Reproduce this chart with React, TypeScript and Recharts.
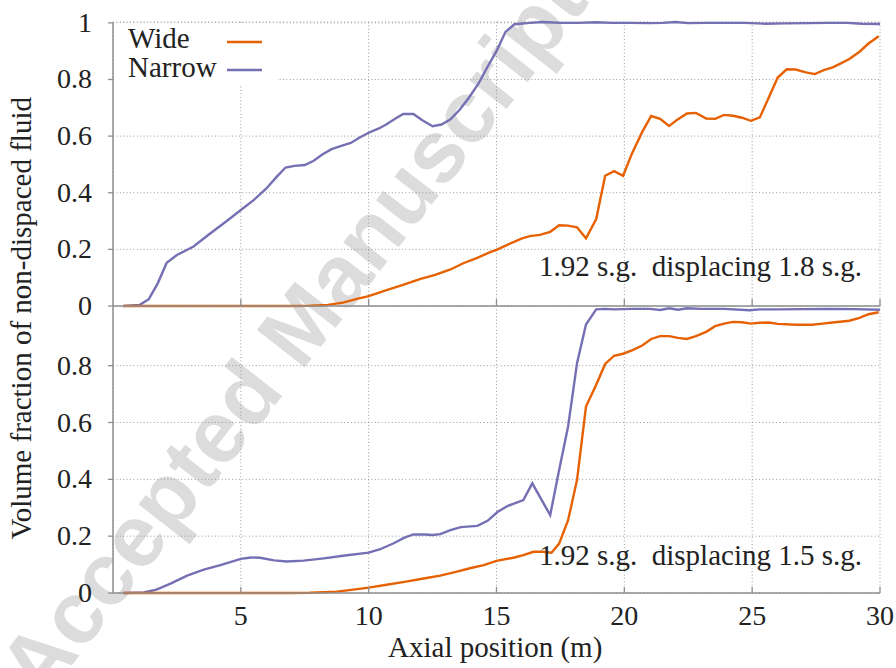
import React, { useEffect, useState } from 'react';
import { LineChart, Line, XAxis, YAxis, CartesianGrid, Legend } from 'recharts';

// 1.92 s.g. displacing 1.8 s.g. — axial position (m) and volume fraction
const topWideX = [0.4, 1, 2, 3, 4, 5, 6, 7, 7.7, 8.4, 9.0, 9.5, 10.0, 10.7, 11.4, 12.0, 12.6, 13.2, 13.7, 14.2, 14.75, 15.0, 15.4, 16.0, 16.3, 16.7, 17.1, 17.45, 17.8, 18.15, 18.5, 18.9, 19.25, 19.6, 19.95, 20.3, 20.7, 21.05, 21.4, 21.75, 22.1, 22.45, 22.8, 23.2, 23.55, 23.9, 24.25, 24.6, 24.95, 25.3, 25.65, 26.0, 26.35, 26.7, 27.1, 27.45, 27.8, 28.15, 28.45, 28.8, 29.2, 29.55, 29.95];
const topWideY = [0, 0, 0, 0, 0, 0, 0, 0, 0.001, 0.004, 0.012, 0.024, 0.035, 0.056, 0.076, 0.095, 0.11, 0.129, 0.151, 0.168, 0.19, 0.198, 0.215, 0.239, 0.247, 0.251, 0.262, 0.285, 0.284, 0.278, 0.239, 0.307, 0.46, 0.476, 0.46, 0.539, 0.615, 0.671, 0.661, 0.636, 0.66, 0.68, 0.682, 0.662, 0.661, 0.675, 0.672, 0.665, 0.654, 0.666, 0.736, 0.807, 0.836, 0.835, 0.825, 0.819, 0.833, 0.843, 0.856, 0.872, 0.898, 0.927, 0.953];

const topNarrowX = [0.4, 1.05, 1.4, 1.75, 2.1, 2.5, 3.15, 3.8, 4.45, 5.0, 5.5, 6.0, 6.4, 6.75, 7.1, 7.5, 7.85, 8.2, 8.55, 8.9, 9.3, 9.65, 10.0, 10.4, 10.7, 11.05, 11.35, 11.75, 12.1, 12.5, 12.85, 13.2, 13.55, 13.9, 14.3, 14.65, 15.0, 15.35, 15.7, 16.3, 16.8, 17.5, 18.2, 18.9, 19.5, 20.2, 21.0, 21.5, 22.0, 22.5, 23.2, 24.0, 24.7, 25.5, 26.3, 27.2, 28.0, 28.7, 29.3, 30.0];
const topNarrowY = [0, 0.004, 0.024, 0.08, 0.153, 0.18, 0.21, 0.256, 0.3, 0.339, 0.374, 0.415, 0.456, 0.489, 0.495, 0.498, 0.513, 0.536, 0.554, 0.565, 0.576, 0.595, 0.612, 0.627, 0.642, 0.662, 0.678, 0.678, 0.656, 0.635, 0.641, 0.659, 0.692, 0.733, 0.786, 0.845, 0.9, 0.968, 0.995, 1.0, 1.003, 1.0, 1.0, 1.002, 1.0, 1.0, 0.999, 1.0, 1.003, 0.999, 1.0, 1.0, 1.0, 0.997, 0.998, 0.999, 1.0, 1.0, 0.997, 0.996];

// 1.92 s.g. displacing 1.5 s.g.
const bottomWideX = [0.4, 2, 4, 6, 7.0, 7.7, 8.75, 9.4, 10.0, 10.7, 11.4, 12.15, 12.8, 13.45, 14.0, 14.5, 15.0, 15.7, 16.05, 16.45, 16.8, 17.15, 17.45, 17.8, 18.15, 18.5, 18.9, 19.25, 19.6, 19.95, 20.3, 20.7, 21.05, 21.4, 21.75, 22.1, 22.45, 22.8, 23.2, 23.55, 23.9, 24.25, 24.6, 24.95, 25.3, 25.65, 26.0, 26.7, 27.35, 27.75, 28.15, 28.8, 29.2, 29.55, 29.95];
const bottomWideY = [0, 0, 0, 0, 0, 0.001, 0.005, 0.012, 0.019, 0.029, 0.039, 0.051, 0.061, 0.075, 0.088, 0.098, 0.113, 0.125, 0.133, 0.145, 0.145, 0.142, 0.174, 0.256, 0.398, 0.656, 0.733, 0.806, 0.835, 0.842, 0.854, 0.871, 0.894, 0.904, 0.904, 0.898, 0.894, 0.904, 0.919, 0.939, 0.948, 0.954, 0.953, 0.948, 0.951, 0.952, 0.947, 0.944, 0.944, 0.948, 0.952, 0.958, 0.968, 0.981, 0.988];

const bottomNarrowX = [0.4, 1.2, 1.7, 2.25, 2.9, 3.55, 4.2, 5.0, 5.4, 5.75, 6.3, 6.8, 7.45, 8.25, 9.0, 10.0, 10.45, 11.0, 11.4, 11.75, 12.2, 12.5, 12.8, 13.2, 13.6, 14.25, 14.65, 15.05, 15.45, 16.05, 16.4, 17.1, 17.45, 17.8, 18.15, 18.5, 18.9, 19.25, 19.6, 20.3, 21.0, 21.4, 21.75, 22.1, 22.45, 23.0, 23.9, 24.9, 25.3, 26.0, 27.0, 28.0, 29.0, 30.0];
const bottomNarrowY = [0, 0.002, 0.012, 0.033, 0.061, 0.082, 0.098, 0.12, 0.125, 0.124, 0.115, 0.111, 0.114, 0.122, 0.131, 0.142, 0.154, 0.176, 0.195, 0.206, 0.206, 0.204, 0.207, 0.221, 0.232, 0.236, 0.254, 0.286, 0.307, 0.327, 0.386, 0.274, 0.433, 0.586, 0.809, 0.945, 0.998, 1.0, 0.998, 1.0, 1.0, 0.996, 1.002, 0.997, 1.002, 1.0, 1.0, 0.995, 0.998, 0.998, 0.999, 1.0, 0.999, 0.997];

const xTicks = [5, 10, 15, 20, 25, 30];
const topTicks = [0, 0.2, 0.4, 0.6, 0.8, 1];
const bottomTicks = [0, 0.2, 0.4, 0.6, 0.8];
const seriesNames = ['Wide', 'Narrow'];

const WIDE = '#e66101';
const NARROW = '#7570b3';
const AXIS = '#8f8f8f';
const GRID = '#9a9a9a';
const INK = '#222222';
const SERIF = 'Liberation Serif';
const serif = { fontFamily: SERIF, whiteSpace: 'pre' as const };

const zip = (xs: number[], ys: number[]) => xs.map((x, i) => ({ x, v: ys[i] }));
const fmt = (v: number) => (v === 0 || v === 1 ? String(v) : v.toFixed(1));

// preserved padding spaces; placed on the side that does not move the anchor
const padEnd = (s: string) => ['  ', s];
const padStart = (s: string) => [s, '  '];
const padMiddle = (s: string) => ['  ', s, '  '];

const YTick = (props: any) => {
  const { x, y, payload } = props;
  return (
    <g>
      <line x1={x - 5} x2={x} y1={y} y2={y} stroke={AXIS} strokeWidth={1.3} />
      <text x={x - 21} y={y + 9} textAnchor="end" fontSize={28} fontFamily={SERIF} style={serif} fill={INK}>
        {padEnd(fmt(payload.value))}
      </text>
    </g>
  );
};

const XTick = (props: any) => {
  const { x, y, payload } = props;
  return (
    <g>
      <line x1={x} x2={x} y1={y - 6} y2={y} stroke={AXIS} strokeWidth={1.3} />
      <text x={x} y={y + 32} textAnchor="middle" fontSize={28} fontFamily={SERIF} style={serif} fill={INK}>
        {padMiddle(String(payload.value))}
      </text>
    </g>
  );
};

// inner tick marks only, on the shared boundary between the panels
const XMark = (props: any) => {
  const { x, y } = props;
  return <line x1={x} x2={x} y1={y - 7} y2={y} stroke={AXIS} strokeWidth={1.3} />;
};

const LegendBox = () => (
  <svg width={163} height={61} style={{ display: 'block', background: '#fff' }}>
    {seriesNames.map((name, i) => (
      <g key={name}>
        <text x={14} y={25 + i * 29} fontSize={29} fontFamily={SERIF} style={serif} fill={INK}>
          {padStart(name)}
        </text>
        <line x1={113} x2={148} y1={19 + i * 28} y2={19 + i * 28} stroke={i === 0 ? WIDE : NARROW} strokeWidth={2.5} />
      </g>
    ))}
  </svg>
);

const Panel = ({ top, height, ticks, domain, wide, narrow, last, legend }: any) => (
  <div style={{ position: 'absolute', left: 0, top }}>
    <LineChart
      width={896}
      height={height}
      margin={{ top: last ? 0 : 22, right: 16, bottom: last ? 0 : 24, left: 0 }}
      style={{ overflow: 'visible' }}
    >
      <CartesianGrid stroke={GRID} strokeDasharray="1 2.4" strokeWidth={1} />
      <XAxis
        type="number"
        dataKey="x"
        domain={[0, 30]}
        ticks={xTicks}
        interval={0}
        height={last ? 75 : 1}
        tickSize={0}
        tickMargin={0}
        tickLine={false}
        axisLine={{ stroke: AXIS, strokeWidth: 1.5 }}
        tick={last ? <XTick /> : <XMark />}
      />
      <YAxis
        type="number"
        domain={domain}
        ticks={ticks}
        interval={0}
        width={113}
        tickSize={0}
        tickMargin={0}
        tickLine={false}
        axisLine={{ stroke: AXIS, strokeWidth: 1.5 }}
        tick={<YTick />}
      />
      {legend && (
        <Legend
          layout="vertical"
          align="center"
          verticalAlign="middle"
          wrapperStyle={{ left: 114, top: 23, width: 163, height: 61 }}
          content={() => <LegendBox />}
        />
      )}
      <Line data={zip(narrow[0], narrow[1])} dataKey="v" name="Narrow" type="linear" stroke={NARROW} strokeWidth={2.4} dot={false} isAnimationActive={false} />
      <Line data={zip(wide[0], wide[1])} dataKey="v" name="Wide" type="linear" stroke={WIDE} strokeWidth={2.4} dot={false} isAnimationActive={false} />
    </LineChart>
  </div>
);

export default function App() {
  // remount once the serif face is available so every label picks it up
  const [fontsReady, setFontsReady] = useState(false);
  useEffect(() => {
    const fonts = (document as any).fonts;
    if (fonts && fonts.load) {
      Promise.all([fonts.load(`28px "${SERIF}"`), fonts.load('bold 88px "Liberation Sans"')])
        .then(() => setFontsReady(true))
        .catch(() => setFontsReady(true));
    } else {
      setFontsReady(true);
    }
  }, []);

  return (
    <div
      key={fontsReady ? 'ready' : 'pending'}
      style={{ position: 'absolute', left: 0, top: 0, width: 896, height: 668, background: '#fff', overflow: 'hidden', fontFamily: SERIF }}
    >
      <svg width={896} height={668} style={{ position: 'absolute', left: 0, top: 0 }}>
        <text
          transform="translate(292, 334) rotate(-52)"
          textAnchor="middle"
          dominantBaseline="central"
          fontSize={88}
          fontWeight="bold"
          fontFamily="Liberation Sans"
          style={{ fontFamily: 'Liberation Sans', whiteSpace: 'pre' }}
          fill="#dcdcdc"
        >
          {'Accepted Manuscript'}
        </text>
      </svg>
      <Panel top={0} height={331} ticks={topTicks} domain={[0, 1]} wide={[topWideX, topWideY]} narrow={[topNarrowX, topNarrowY]} legend />
      <Panel top={306} height={362} ticks={bottomTicks} domain={[0, 1.01]} wide={[bottomWideX, bottomWideY]} narrow={[bottomNarrowX, bottomNarrowY]} last />
      <svg width={896} height={668} style={{ position: 'absolute', left: 0, top: 0, pointerEvents: 'none' }}>
        <text x={862} y={276} textAnchor="end" fontSize={29} fontFamily={SERIF} fill={INK} style={serif}>
          {'1.92 s.g.  displacing 1.8 s.g.'}
        </text>
        <text x={862} y={565} textAnchor="end" fontSize={29} fontFamily={SERIF} fill={INK} style={serif}>
          {'1.92 s.g.  displacing 1.5 s.g.'}
        </text>
        <text x={496} y={657} textAnchor="middle" fontSize={29} fontFamily={SERIF} fill={INK} style={serif}>
          {padMiddle('Axial position (m)')}
        </text>
        <text transform="translate(31, 318) rotate(-90)" textAnchor="middle" fontSize={29} fontFamily={SERIF} fill={INK} style={serif}>
          {padMiddle('Volume fraction of non-dispaced fluid')}
        </text>
      </svg>
    </div>
  );
}
